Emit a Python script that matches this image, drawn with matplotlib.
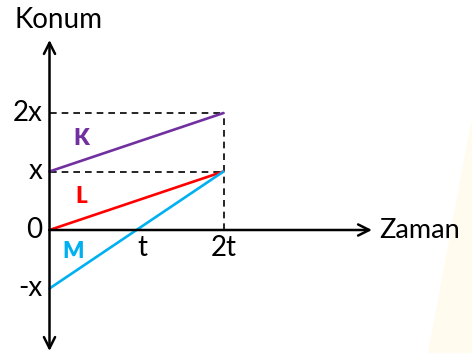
import numpy as np
import matplotlib.pyplot as plt
from matplotlib.patches import Polygon

plt.rcParams['font.family'] = ['Lato', 'DejaVu Sans']

# position-time data (t units, x units)
times = [0, 2]
pos_K = [1, 2]
pos_L = [0, 1]
pos_M = [-1, 1]
names = ['K', 'L', 'M']
colors = ['#7030A0', '#FF0000', '#00B0F0']
ytick_vals = [2, 1, 0, -1]
ytick_labels = ['2x', 'x', '0', '-x']
xtick_vals = [1, 2]
xtick_labels = ['t', '2t']

W, H = 472, 353
fig = plt.figure(figsize=(W / 100, H / 100), dpi=100)

# faint background wedge (watermark), behind everything
fig.patches.append(Polygon([[471 / W, 1 - 123 / H], [428 / W, 0], [1, 0], [1, 1 - 123 / H]],
                           closed=True, transform=fig.transFigure,
                           facecolor='#fffbee', edgecolor='none', zorder=-5))

ax = fig.add_axes([0, 0, 1, 1])
ax.patch.set_alpha(0)
ax.axis('off')
ox, oy, sx, sy = 49.5, 230, 87, 58.5
ax.set_xlim(-ox / sx, (W - ox) / sx)
ax.set_ylim(-(H - oy) / sy, oy / sy)

# axes with arrows
arr = dict(lw=1.8, color='black', mutation_scale=20, shrinkA=0, shrinkB=0)
ax.annotate('', xy=(0, (oy - 40) / sy), xytext=(0, 0), arrowprops=dict(arrowstyle='->', **arr))
ax.annotate('', xy=(0, -(351 - oy) / sy), xytext=(0, 0), arrowprops=dict(arrowstyle='->', **arr))
ax.annotate('', xy=((372 - ox) / sx, 0), xytext=(0, 0), arrowprops=dict(arrowstyle='->', **arr))

# dashed guides
ax.plot([0, 2], [2, 2], 'k--', lw=1.2, dashes=(4, 3))
ax.plot([0, 2], [1, 1], 'k--', lw=1.2, dashes=(4, 3))
ax.plot([2, 2], [0, 2], 'k--', lw=1.2, dashes=(4, 3))

for p, c in zip([pos_K, pos_L, pos_M], colors):
    ax.plot(times, p, color=c, lw=1.9, solid_capstyle='round')

lab_pos = [(0.37, 1.56), (0.36, 0.57), (0.27, -0.37)]
for n, c, (lx, ly) in zip(names, colors, lab_pos):
    ax.text(lx, ly, n, color=c, fontsize=16, fontweight='heavy', ha='center', va='center')

for v, s in zip(ytick_vals, ytick_labels):
    ax.text(-7 / sx, v, s, fontsize=20, ha='right', va='center')
for v, s in zip(xtick_vals, xtick_labels):
    ax.text(v + 0.07 * (v == 1), -0.3, s, fontsize=20, ha='center', va='center')

ax.text(-35 / sx, (oy - 20) / sy, 'Konum', fontsize=20, ha='left', va='center')
ax.text((379 - ox) / sx, 0, 'Zaman', fontsize=19.5, ha='left', va='center')

fig.savefig('out.png', dpi=100)
